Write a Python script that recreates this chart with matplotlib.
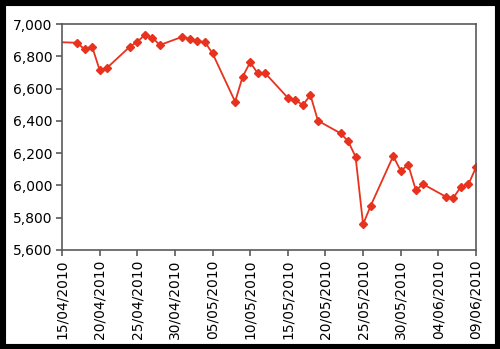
import datetime
import matplotlib
matplotlib.use('Agg')
from matplotlib import pyplot as plt
import matplotlib.dates as mdates
from matplotlib.patches import Rectangle

# index level, daily closes
dates = ['15/04/2010', '17/04/2010', '18/04/2010', '19/04/2010', '20/04/2010', '21/04/2010',
         '24/04/2010', '25/04/2010', '26/04/2010', '27/04/2010', '28/04/2010',
         '01/05/2010', '02/05/2010', '03/05/2010', '04/05/2010', '05/05/2010',
         '08/05/2010', '09/05/2010', '10/05/2010', '11/05/2010', '12/05/2010',
         '15/05/2010', '16/05/2010', '17/05/2010', '18/05/2010', '19/05/2010',
         '22/05/2010', '23/05/2010', '24/05/2010', '25/05/2010', '26/05/2010',
         '29/05/2010', '30/05/2010', '31/05/2010', '01/06/2010', '02/06/2010',
         '05/06/2010', '06/06/2010', '07/06/2010', '08/06/2010', '09/06/2010']
values = [6887, 6884, 6843, 6860, 6715, 6729,
          6859, 6890, 6932, 6915, 6870,
          6921, 6909, 6895, 6887, 6818,
          6519, 6674, 6763, 6695, 6695,
          6543, 6529, 6498, 6560, 6401,
          6323, 6275, 6178, 5759, 5873,
          6182, 6091, 6127, 5972, 6007,
          5930, 5924, 5992, 6007, 6112]
tick_dates = ['15/04/2010', '20/04/2010', '25/04/2010', '30/04/2010', '05/05/2010', '10/05/2010',
              '15/05/2010', '20/05/2010', '25/05/2010', '30/05/2010', '04/06/2010', '09/06/2010']
y_ticks = [5600, 5800, 6000, 6200, 6400, 6600, 6800, 7000]

x = [datetime.datetime.strptime(d, '%d/%m/%Y') for d in dates]
xt = [datetime.datetime.strptime(d, '%d/%m/%Y') for d in tick_dates]

fig = plt.figure(figsize=(5.0, 3.49), dpi=100)
ax = fig.add_axes([0.124, 0.2837, 0.828, 0.6475])

red = '#e8321e'
ax.plot(x, values, color=red, lw=1.3, marker='D', markersize=4.5,
        markevery=list(range(1, len(x))), markeredgecolor=red, markerfacecolor=red)

ax.set_xlim(xt[0], xt[-1])
ax.set_ylim(y_ticks[0], y_ticks[-1])
ax.set_yticks(y_ticks)
ax.set_yticklabels(['{:,}'.format(v) for v in y_ticks])
ax.set_xticks(xt)
ax.set_xticklabels(tick_dates, rotation=90)

gray = '#5a5a5a'
for s in ax.spines.values():
    s.set_color(gray)
    s.set_linewidth(1.2)
ax.tick_params(axis='both', direction='out', length=4, width=1.2, color=gray,
               labelsize=10, labelcolor='black')
ax.tick_params(axis='x', pad=3)
ax.tick_params(axis='y', pad=3)

# black frame around the picture
fig.patches.append(Rectangle((0, 0), 1, 1, transform=fig.transFigure, fill=False,
                             edgecolor='black', linewidth=8))

fig.savefig('out.png', dpi=100)
